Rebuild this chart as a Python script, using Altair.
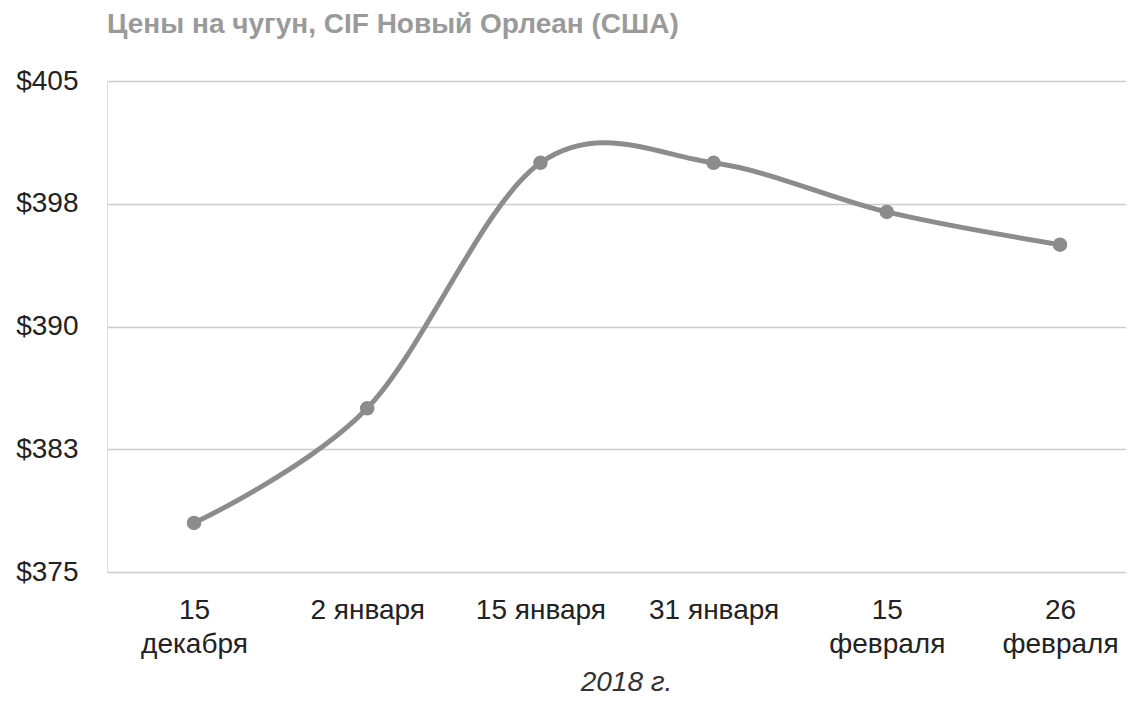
import altair as alt
import pandas as pd

# Data
dates = ["15\nдекабря", "2 января", "15 января", "31 января", "15\nфевраля", "26\nфевраля"]
prices = [378, 385, 400, 400, 397, 395]

y_ticks = [375, 382.5, 390, 397.5, 405]
y_tick_labels = ["$375", "$383", "$390", "$398", "$405"]

title_text = "Цены на чугун, CIF Новый Орлеан (США)"
x_title = "2018 г."

positions = list(range(len(dates)))
df = pd.DataFrame({"idx": positions, "date": dates, "price": prices})

FONT = "Arial, Liberation Sans, sans-serif"
LINE_COLOR = "#8c8c8c"

y_label_map = "{" + ", ".join(f"'{v}': '{l}'" for v, l in zip(y_ticks, y_tick_labels)) + "}"
x_label_map = "[" + ", ".join("'" + d.replace("\n", "\\n") + "'" for d in dates) + "]"

x_enc = alt.X(
    "idx:Q",
    scale=alt.Scale(domain=[-0.5023, 5.3811], nice=False, zero=False),
    axis=alt.Axis(
        title=x_title,
        values=positions,
        labelAngle=0,
        labelExpr=f"split({x_label_map}[datum.value], '\\n')",
        labelFontSize=28,
        labelFont=FONT,
        labelColor="#222222",
        labelLineHeight=34,
        labelPadding=24,
        labelBaseline="top",
        labelFlush=False,
        labelOverlap=False,
        ticks=False,
        domain=False,
        grid=False,
        titleFont=FONT,
        titleFontSize=28,
        titleFontStyle="italic",
        titleFontWeight="normal",
        titleColor="#333333",
        titlePadding=10,
        titleX=519,
    ),
)

y_enc = alt.Y(
    "price:Q",
    scale=alt.Scale(domain=[375, 405], nice=False, zero=False),
    axis=alt.Axis(
        title=None,
        values=y_ticks,
        labelExpr=f"{y_label_map}[toString(datum.value)]",
        labelFontSize=28,
        labelFont=FONT,
        labelColor="#222222",
        labelPadding=29,
        ticks=False,
        domain=False,
        grid=True,
        gridColor="#cccccc",
        gridWidth=1.5,
    ),
)

base = alt.Chart(df).encode(x=x_enc, y=y_enc)

line = base.mark_line(interpolate="cardinal", color=LINE_COLOR, strokeWidth=5)
points = base.mark_circle(color=LINE_COLOR, size=210, opacity=1)

chart = (
    alt.layer(line, points)
    .properties(
        width=1019,
        height=491,
        title=alt.TitleParams(
            text=title_text,
            anchor="start",
            frame="group",
            font=FONT,
            fontSize=28,
            fontWeight="bold",
            color="#9a9a9a",
            offset=28,
        ),
        autosize=alt.AutoSizeParams(type="none"),
        padding={"left": 99, "top": 73, "right": 0, "bottom": 125},
    )
    .configure_view(stroke=None)
    .configure(background="white")
)

chart.save("out.html", embed_options={"renderer": "svg", "actions": False})
